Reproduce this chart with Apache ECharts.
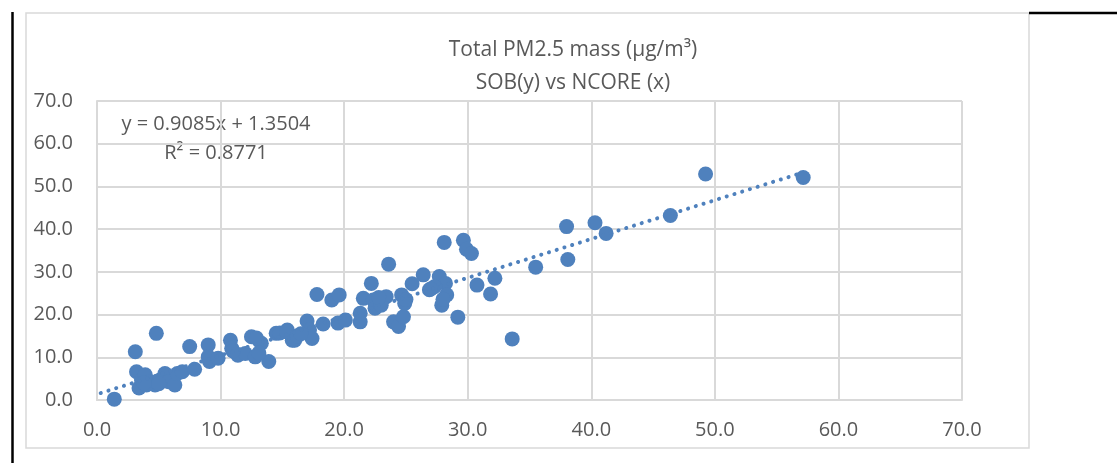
<!DOCTYPE html>
<html>
<head>
<meta charset="utf-8">
<script src="https://cdn.jsdelivr.net/npm/echarts@6/dist/echarts.min.js"></script>
<style>
html,body{margin:0;padding:0;background:#fff;}
#chart{width:1117px;height:463px;}
</style>
</head>
<body>
<div id="chart"></div>
<script>
// ---- Data ----
const titleLines = ['Total PM2.5 mass (\u00b5g/m\u00b3)', 'SOB(y) vs NCORE (x)'];
const equationText = 'y = 0.9085x + 1.3504';
const r2Text = 'R\u00b2 = 0.8771';
const trendSlope = 0.9085;
const trendIntercept = 1.3504;
const trendRange = [0.3, 57.15];
const axisTicks = [0, 10, 20, 30, 40, 50, 60, 70];

const ncoreX = [
  1.4, 3.1, 4.8, 3.2, 3.4, 3.6, 3.9, 4.3, 4.7, 5.1, 5.5, 5.8, 6.3, 6.5, 6.9, 7.9, 7.5, 4.0, 5.0, 3.8,
  9.0, 9.1, 9.0, 9.8, 10.8, 10.9, 11.4, 12.0, 12.5, 12.8, 13.3, 13.9, 14.5, 15.4, 15.8, 12.9, 13.1, 11.0,
  14.8, 15.35, 16.0, 16.2, 17.0, 17.2, 17.4, 17.8, 18.3, 19.0, 19.6, 19.5, 20.1, 16.5,
  21.3, 21.3, 21.55, 22.2, 22.35, 22.5, 23.0, 23.4, 23.6, 24.0, 24.4, 24.65, 24.9, 24.8, 25.0, 25.5, 26.4, 26.9, 22.8,
  27.7, 27.9, 28.2, 28.3, 27.3, 28.0, 28.1, 29.2, 29.65, 29.9, 30.3, 30.75, 31.85, 32.2, 33.6, 27.0,
  35.5, 38.0, 38.1, 40.3, 41.2, 46.4, 49.25, 57.15
];
const sobY = [
  0.2, 11.3, 15.6, 6.6, 2.8, 4.7, 5.9, 4.3, 3.5, 4.7, 6.2, 4.3, 3.5, 6.2, 6.6, 7.2, 12.5, 3.5, 3.8, 4.0,
  12.9, 9.0, 10.1, 9.8, 14.0, 12.1, 10.5, 10.9, 14.8, 10.1, 13.3, 9.0, 15.6, 16.4, 14.0, 14.5, 11.0, 11.5,
  15.7, 16.0, 14.0, 15.0, 18.5, 16.4, 14.4, 24.7, 17.8, 23.4, 24.6, 18.0, 18.7, 15.5,
  20.3, 18.3, 23.8, 27.3, 23.4, 21.5, 22.2, 24.2, 31.8, 18.3, 17.2, 24.6, 22.6, 19.5, 23.5, 27.2, 29.3, 25.8, 24.0,
  28.9, 22.2, 27.3, 24.6, 26.5, 23.6, 36.9, 19.4, 37.4, 35.3, 34.3, 26.9, 24.8, 28.5, 14.3, 26.0,
  31.1, 40.6, 32.9, 41.5, 39.0, 43.2, 52.9, 52.1
];

// ---- Build ----
const points = ncoreX.map((x, i) => [x, sobY[i]]);
const trendPoints = trendRange.map(x => [x, trendSlope * x + trendIntercept]);

const FONT = '"Open Sans", "Liberation Sans", sans-serif';
const TXT = '#595959';
const GRID = '#D9D9D9';
const BLUE = '#4F81BD';

const chart = echarts.init(document.getElementById('chart'), null, {renderer: 'canvas'});
const axisCommon = {
  type: 'value',
  min: axisTicks[0],
  max: axisTicks[axisTicks.length - 1],
  interval: axisTicks[1] - axisTicks[0],
  axisTick: {show: false},
  axisLine: {show: true, lineStyle: {color: GRID, width: 2}},
  splitLine: {show: true, lineStyle: {color: GRID, width: 2}},
  axisLabel: {color: TXT, fontFamily: FONT, fontSize: 20, formatter: v => v.toFixed(1)}
};

chart.setOption({
  animation: false,
  backgroundColor: '#fff',
  grid: {left: 97, right: 155, top: 101, bottom: 63, containLabel: false},
  xAxis: Object.assign({}, axisCommon, {axisLabel: Object.assign({}, axisCommon.axisLabel, {margin: 20})}),
  yAxis: Object.assign({}, axisCommon, {axisLabel: Object.assign({}, axisCommon.axisLabel, {margin: 24})}),
  graphic: [
    {type: 'rect', shape: {x: 26, y: 13, width: 1003, height: 435}, style: {fill: 'none', stroke: GRID, lineWidth: 1.5}, z: -1},
    {type: 'line', shape: {x1: 12.5, y1: 12, x2: 12.5, y2: 463}, style: {stroke: '#000', lineWidth: 2.5}},
    {type: 'line', shape: {x1: 1029, y1: 13, x2: 1117, y2: 13}, style: {stroke: '#000', lineWidth: 2.5}},
    {type: 'text', x: 573, y: 50, style: {text: titleLines[0], fill: TXT, font: '21px ' + FONT, textAlign: 'center', textVerticalAlign: 'middle'}},
    {type: 'text', x: 573, y: 83, style: {text: titleLines[1], fill: TXT, font: '21px ' + FONT, textAlign: 'center', textVerticalAlign: 'middle'}},
    {type: 'text', x: 216, y: 124, style: {text: equationText, fill: TXT, font: '20px ' + FONT, textAlign: 'center', textVerticalAlign: 'middle'}},
    {type: 'text', x: 216, y: 153, style: {text: r2Text, fill: TXT, font: '20px ' + FONT, textAlign: 'center', textVerticalAlign: 'middle'}}
  ],
  series: [
    {
      type: 'scatter',
      data: points,
      symbol: 'circle',
      symbolSize: 15,
      itemStyle: {color: BLUE, opacity: 1},
      z: 2
    },
    {
      type: 'line',
      data: trendPoints,
      showSymbol: false,
      symbol: 'none',
      lineStyle: {color: BLUE, width: 4, type: [0.1, 8], cap: 'round'},
      z: 3
    }
  ]
});
</script>
</body>
</html>
